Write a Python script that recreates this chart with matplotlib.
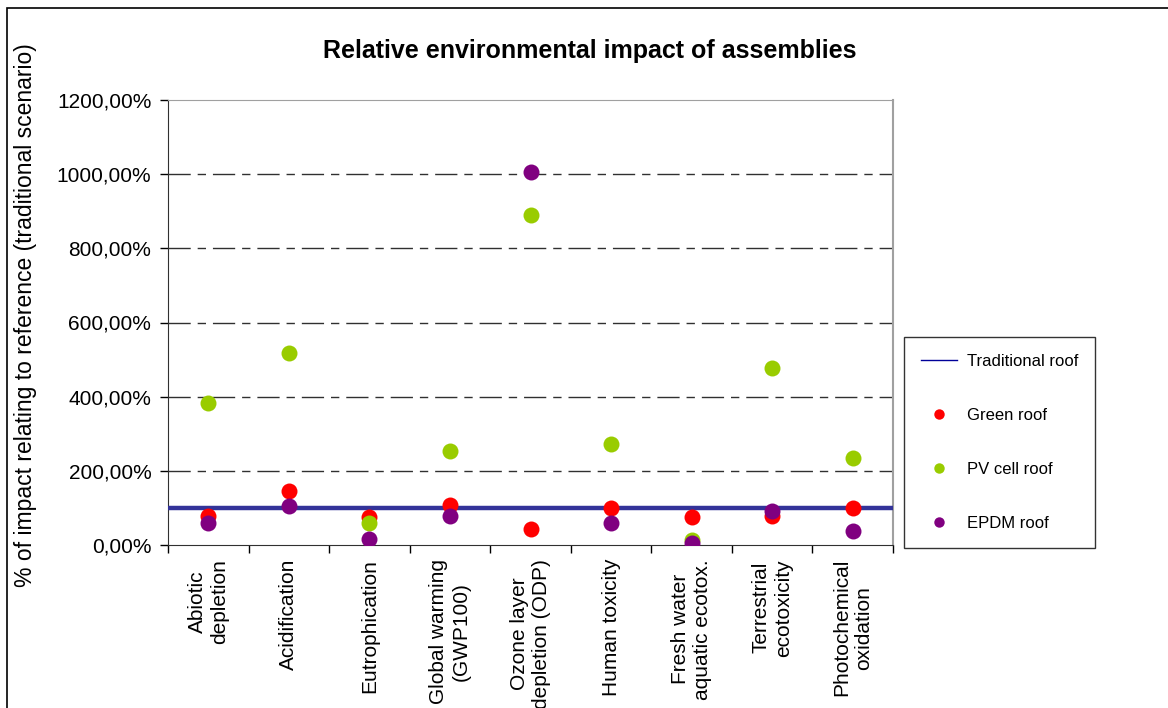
import matplotlib
matplotlib.use("Agg")
import matplotlib.pyplot as plt
from matplotlib.lines import Line2D
from matplotlib.patches import Rectangle
from matplotlib.ticker import FuncFormatter, MultipleLocator
import numpy as np

plt.rcParams.update({"font.family": ["Liberation Sans", "DejaVu Sans"], "font.size": 15})

categories = ["Abiotic\ndepletion", "Acidification", "Eutrophication",
              "Global warming\n(GWP100)", "Ozone layer\ndepletion (ODP)",
              "Human toxicity", "Fresh water\naquatic ecotox.",
              "Terrestrial\necotoxicity", "Photochemical\noxidation"]

# percent of impact relative to the traditional roof
traditional = 100.0
green_roof = [78, 145, 75, 107, 42, 99, 75, 78, 99]
pv_roof = [383, 517, 60, 254, 890, 272, 13, 478, 234]
epdm_roof = [60, 105, 17, 78, 1006, 60, 6, 92, 39]

series = [("Green roof", green_roof, "#ff0000"),
          ("PV cell roof", pv_roof, "#99cc00"),
          ("EPDM roof", epdm_roof, "#800080")]

fig = plt.figure(figsize=(11.68, 7.08), dpi=100)
ax = fig.add_axes([168 / 1168, 1 - 545 / 708, 725 / 1168, 445 / 708])

x = np.arange(len(categories))
ax.axhline(traditional, color="#333399", lw=3.2, zorder=3)
for name, vals, col in series:
    ax.plot(x, vals, "o", color=col, ms=11.5, mew=0, zorder=4)

ax.set_xlim(-0.5, len(categories) - 0.5)
ax.set_ylim(0, 1200)
ax.yaxis.set_major_locator(MultipleLocator(200))
ax.yaxis.set_major_formatter(FuncFormatter(lambda v, p: "{:.2f}%".format(v).replace(".", ",")))
ax.set_xticks(np.arange(len(categories) + 1) - 0.5)
ax.set_xticklabels([])
ax.set_xticks(x, minor=True)
ax.set_xticklabels(categories, minor=True, rotation=90, va="top", ha="center",
                   multialignment="center")
ax.tick_params(axis="x", which="minor", length=0, pad=10)
ax.tick_params(axis="x", which="major", length=6, width=1, direction="out")
ax.tick_params(axis="y", length=6, width=1, direction="out", pad=6)

for v in range(200, 1200, 200):
    ax.axhline(v, color="#303030", lw=1, ls=(0, (16, 5, 6, 5)), zorder=1)

ax.spines["top"].set_color("#a0a0a0")
ax.spines["right"].set_color("#a0a0a0")
ax.spines["right"].set_linewidth(1.5)
ax.spines["left"].set_color("#303030")
ax.spines["bottom"].set_color("#303030")

ax.set_ylabel("% of impact relating to reference (traditional scenario)", fontsize=16.5)
ax.yaxis.set_label_coords(37 / 1168, 1 - 315 / 708, transform=fig.transFigure)

fig.text(590 / 1168, 1 - 58 / 708, "Relative environmental impact of assemblies",
         ha="center", va="baseline", fontsize=18, fontweight="bold")

handles = [Line2D([], [], color="#000099", lw=1)]
labels = ["Traditional roof"]
for name, vals, col in series:
    handles.append(Line2D([], [], ls="none", marker="o", color=col, ms=7.5, mew=0))
    labels.append(name)
leg = fig.legend(handles, labels, loc="upper left",
                 bbox_to_anchor=(904 / 1168, 1 - 337 / 708), fontsize=12,
                 frameon=True, fancybox=False, edgecolor="black", labelspacing=2.35,
                 handlelength=2.2, handletextpad=0.6, borderpad=1.0, borderaxespad=0)
leg.get_frame().set_linewidth(1)

# outer chart border (runs past the right and bottom edges)
fig.add_artist(Rectangle((7 / 1168, -0.1), 1.2, 1 - 8 / 708 + 0.1,
                         transform=fig.transFigure, fill=False, ec="black", lw=1.2))

fig.savefig("out.png", dpi=100)
